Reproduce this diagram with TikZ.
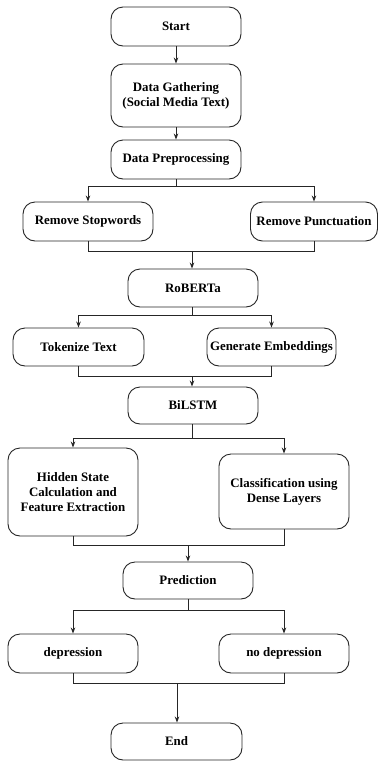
\documentclass[tikz,border=0pt]{standalone}
\usepackage{fontspec}
\setmainfont{Liberation Serif}
\usetikzlibrary{arrows.meta}
\begin{document}
\begin{tikzpicture}[x=1pt,y=-1pt,
  box/.style={draw=black!85,line width=0.9pt,rounded corners=12pt,align=center,
    font=\fontsize{12.9}{15}\selectfont\bfseries,inner sep=0pt},
  conn/.style={draw=black!85,line width=0.9pt},
  arr/.style={conn,-{Stealth[length=6pt,width=4.5pt]}}]
\useasboundingbox (0,0) rectangle (378,761);
\node[box,minimum width=130pt,minimum height=39pt] (start) at (176,26.5) {Start};
\node[box,minimum width=130pt,minimum height=63pt] (dg) at (176,95.5) {Data Gathering\\(Social Media Text)};
\node[box,minimum width=130pt,minimum height=39pt] (dp) at (176,159.5) {Data Preprocessing};
\node[box,minimum width=130pt,minimum height=39pt] (rs) at (88,221.5) {Remove Stopwords};
\node[box,minimum width=127pt,minimum height=39pt] (rp) at (314,221.5) {Remove Punctuation};
\node[box,minimum width=130pt,minimum height=38pt] (rob) at (193,288) {RoBERTa};
\node[box,minimum width=131pt,minimum height=38pt] (tok) at (78.5,347) {Tokenize Text};
\node[box,minimum width=129pt,minimum height=38pt] (gen) at (271.5,347) {Generate Embeddings};
\node[box,minimum width=130pt,minimum height=37pt] (bil) at (193,405.5) {BiLSTM};
\node[box,minimum width=130pt,minimum height=88pt] (hid) at (73,492) {Hidden State\\Calculation and\\Feature Extraction};
\node[box,minimum width=130pt,minimum height=75pt] (cls) at (284,491.5) {Classification using\\Dense Layers};
\node[box,minimum width=130pt,minimum height=37pt] (pred) at (188,580.5) {Prediction};
\node[box,minimum width=130pt,minimum height=39pt] (dep) at (73,653.5) {depression};
\node[box,minimum width=130pt,minimum height=39pt] (nodep) at (284,653.5) {no depression};
\node[box,minimum width=131pt,minimum height=37pt] (end) at (176.5,741.5) {End};

\draw[arr] (start) -- (dg);
\draw[arr] (dg) -- (dp);
% split 1
\coordinate (s1) at (176,186);
\draw[conn] (dp.south) -- (s1);
\draw[arr] (s1) -| (rs.north);
\draw[arr] (s1) -| (rp.north);
% merge 1
\coordinate (m1) at (192,251);
\draw[conn] (rs.south) |- (m1);
\draw[conn] (rp.south) |- (m1);
\draw[arr] (m1) -- (m1 |- rob.north);
% split 2
\coordinate (s2) at (192,315);
\draw[conn] (rob.south -| s2) -- (s2);
\draw[arr] (s2) -| (tok.north);
\draw[arr] (s2) -| (gen.north);
% merge 2
\coordinate (m2) at (192,376);
\draw[conn] (tok.south) |- (m2);
\draw[conn] (gen.south) |- (m2);
\draw[arr] (m2) -- (m2 |- bil.north);
% split 3
\coordinate (s3) at (192,438);
\draw[conn] (bil.south -| s3) -- (s3);
\draw[arr] (s3) -| (hid.north);
\draw[arr] (s3) -| (cls.north);
% merge 3
\coordinate (m3) at (188,545);
\draw[conn] (hid.south) |- (m3);
\draw[conn] (cls.south) |- (m3);
\draw[arr] (m3) -- (pred.north);
% split 4
\coordinate (s4) at (188,610);
\draw[conn] (pred.south) -- (s4);
\draw[arr] (s4) -| (dep.north);
\draw[arr] (s4) -| (nodep.north);
% merge 4
\coordinate (m4) at (177,683);
\draw[conn] (dep.south) |- (m4);
\draw[conn] (nodep.south) |- (m4);
\draw[arr] (m4) -- (m4 |- end.north);
\end{tikzpicture}
\end{document}
